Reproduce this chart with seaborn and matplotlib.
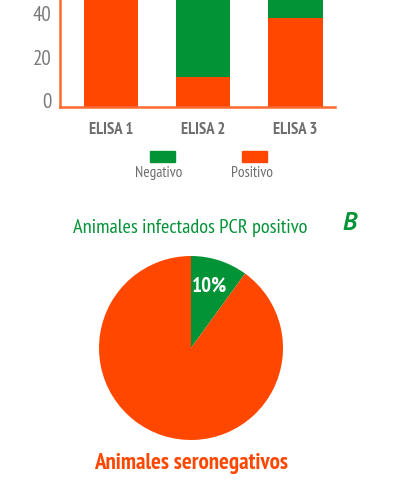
import matplotlib
matplotlib.use("Agg")
import matplotlib.pyplot as plt
import matplotlib.transforms as mtransforms
from matplotlib.patches import Rectangle
import seaborn as sns
import pandas as pd

categories = ["ELISA 1", "ELISA 2", "ELISA 3"]
positivo = [100, 14, 41]
negativo = [0, 86, 59]
yticks = [0, 20, 40]
pie_labels = ["Infectados PCR positivo", "Seronegativos"]
pie_values = [10, 90]

GREEN = "#039337"
ORANGE = "#FF4700"
GRAY = "#6d6d6d"
FONT = ["PT Sans Narrow", "DejaVu Sans"]

sns.set_theme(style="white")
plt.rcParams["font.family"] = FONT

fig = plt.figure(figsize=(3.98, 5.0), dpi=100)

# --- stacked bar chart (cropped at top) ---
ax = fig.add_axes([60/398, 1 - 107/500, 275/398, 107/500])
df = pd.DataFrame({"cat": categories, "pos": positivo,
                   "tot": [p + n for p, n in zip(positivo, negativo)]})
sns.barplot(data=df, x="cat", y="tot", color=GREEN, saturation=1, width=0.59,
            linewidth=0, ax=ax)
sns.barplot(data=df, x="cat", y="pos", color=ORANGE, saturation=1, width=0.59,
            linewidth=0, ax=ax)
ax.set_xlim(-0.55, 2.43)
ax.set_ylim(0, 49.2)
ax.set_yticks(yticks)
ax.set_yticklabels([str(t) for t in yticks])
ax.set_xlabel("")
ax.set_ylabel("")
for s in ["top", "right"]:
    ax.spines[s].set_visible(False)
for s in ["left", "bottom"]:
    ax.spines[s].set_color("#FF6A30")
    ax.spines[s].set_linewidth(1.8)
ax.tick_params(axis="both", length=0)
ax.tick_params(axis="y", pad=6, labelsize=15, labelcolor="#7a7a7a")
ax.tick_params(axis="x", pad=11, labelsize=12, labelcolor=GRAY)
for lab in ax.get_xticklabels():
    lab.set_fontweight("bold")
off = mtransforms.ScaledTranslation(0, 6.5/100, fig.dpi_scale_trans)
for lab in ax.get_yticklabels():
    lab.set_transform(lab.get_transform() + off)

# --- legend (handles above labels) ---
for xc, col, txt in [(162, GREEN, "Negativo"), (255, ORANGE, "Positivo")]:
    fig.patches.append(Rectangle(((xc - 12.5)/398, 1 - 162/500), 25/398, 11/500,
                                 transform=fig.transFigure, color=col))
    fig.text(xc/398 - 3/398, 1 - 173/500, txt, ha="center", va="center",
             fontsize=11, color=GRAY)

# --- title B ---
fig.text(190/398, 1 - 228/500, "Animales infectados PCR positivo", ha="center",
         va="center", fontsize=14.7, color=GREEN)
fig.text(350/398, 1 - 224/500, "B", ha="center", va="center", fontsize=18,
         color=GREEN, fontweight="bold", fontstyle="italic",
         family=["PT Sans", "DejaVu Sans"])

# --- pie ---
pax = fig.add_axes([(191 - 92)/398, 1 - (348 + 92)/500, 184/398, 184/500])
wedges, _ = pax.pie(pie_values, colors=[GREEN, ORANGE], startangle=90,
                    counterclock=False, radius=1,
                    wedgeprops=dict(linewidth=0))
pax.set_xlim(-1, 1)
pax.set_ylim(-1, 1)
pax.set_aspect("equal")
pax.axis("off")
pax.text(0.2, 0.67, f"{pie_values[0]}%", ha="center", va="center",
         fontsize=15, color="white", fontweight="bold")

fig.text(191/398, 1 - 464/500, "Animales seronegativos", ha="center", va="center",
         fontsize=16.5, color=ORANGE, fontweight="bold")

fig.savefig("out.png", dpi=100)
